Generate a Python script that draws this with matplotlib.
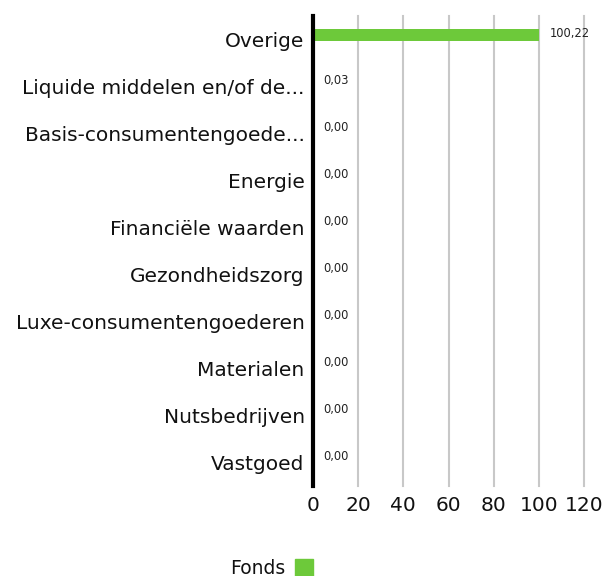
import matplotlib.pyplot as plt
from matplotlib.patches import Rectangle

categories = ["Overige", "Liquide middelen en/of de...", "Basis-consumentengoede...",
              "Energie", "Financiële waarden", "Gezondheidszorg",
              "Luxe-consumentengoederen", "Materialen", "Nutsbedrijven", "Vastgoed"]
fonds = [100.22, 0.03, 0.00, 0.00, 0.00, 0.00, 0.00, 0.00, 0.00, 0.00]
xticks = [0, 20, 40, 60, 80, 100, 120]
green = "#6dc93a"

plt.rcParams['font.family'] = ['DejaVu Sans']

fig = plt.figure(figsize=(6.05, 5.76), dpi=100)
ax = fig.add_axes([313/605, 1 - 486/576, 271/605, 470/576])

ypos = [i - 0.09 for i in range(len(categories))]
ax.barh(ypos, fonds, height=0.26, color=green, zorder=3)
for i, v in enumerate(fonds):
    ax.text(v + 4.5, i - 0.12, f"{v:.2f}".replace(".", ","), fontsize=8.3,
            va="center", ha="left", color="#222222", zorder=4)

ax.set_yticks(range(len(categories)))
ax.set_yticklabels(categories, fontsize=14.5, color="#111111")
ax.set_ylim(len(categories) - 0.5, -0.5)
ax.set_xlim(0, 120)
ax.set_xticks(xticks)
ax.set_xticklabels([str(t) for t in xticks], fontsize=14.5, color="#111111")
ax.tick_params(axis="both", length=0)
ax.tick_params(axis="y", pad=6)
ax.tick_params(axis="x", pad=7)

ax.grid(axis="x", color="#c8c8c8", linewidth=1.5, zorder=0)
for gl in ax.get_xgridlines():
    gl.set_clip_on(False)
for s in ["top", "right", "bottom"]:
    ax.spines[s].set_visible(False)
ax.spines["left"].set_linewidth(3)
ax.spines["left"].set_color("black")
ax.spines["left"].set_zorder(5)

fig.text(285/605, 1 - 568/576, "Fonds", fontsize=13.5, ha="right", va="center",
         color="#111111")
fig.patches.append(Rectangle((295/605, 1 - 577/576), 18/605, 18/576,
                             transform=fig.transFigure, color=green, figure=fig))

fig.savefig("out.png", dpi=100)
